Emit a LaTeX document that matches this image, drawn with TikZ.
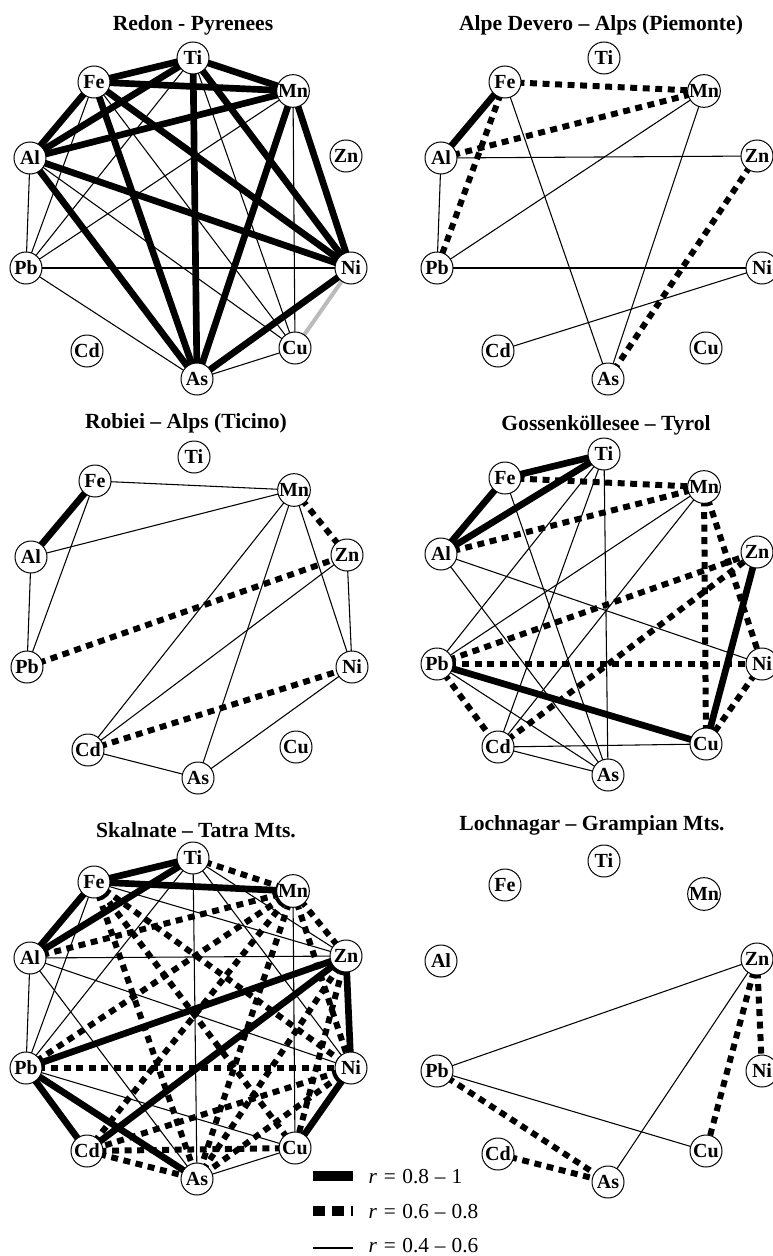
\documentclass[tikz,border=0pt]{standalone}
\usepackage{fontspec}
\setmainfont{Liberation Serif}
\pgfdeclarelayer{edges}
\pgfsetlayers{edges,main}
\definecolor{neggray}{HTML}{BBBBBB}
\tikzset{
  el/.style={circle,draw,line width=0.75pt,fill=white,minimum size=24pt,inner sep=0pt,
    font=\fontsize{15}{15}\selectfont\bfseries},
  ttl/.style={font=\fontsize{16.2}{18}\selectfont\bfseries},
  strong/.style={line width=5pt},
  medium/.style={line width=4.5pt,dash pattern=on 5.2pt off 4.2pt},
  weak/.style={line width=0.8pt},
  neg/.style={line width=3pt,draw=neggray},
  lgtext/.style={anchor=west,font=\fontsize{16}{16}\selectfont},
}
% the ten elements of one lake, on a circle
\newcommand\placeelements[1]{%
  \node[el] (#1Ti) at (193,58)  {Ti};
  \node[el] (#1Fe) at (94,82)   {Fe};
  \node[el] (#1Mn) at (293,91)  {Mn};
  \node[el] (#1Al) at (30,158)  {Al};
  \node[el] (#1Zn) at (346,156) {Zn};
  \node[el] (#1Pb) at (26,268)  {Pb};
  \node[el] (#1Ni) at (351,268) {Ni};
  \node[el] (#1Cd) at (87,351)  {Cd};
  \node[el] (#1Cu) at (295,348) {Cu};
  \node[el] (#1As) at (197,379) {As};
}
% correlation links, drawn under the element circles
\newcommand\links[3]{%
  \begin{pgfonlayer}{edges}
    \foreach \a/\b in {#3}{\draw[#2] (#1\a.center) -- (#1\b.center);}
  \end{pgfonlayer}}
\newcommand\rrange[2]{\textit{r}\hspace{0.32em}=\hspace{0.3em}#1\hspace{0.28em}–\hspace{0.28em}#2}

\begin{document}
\begin{tikzpicture}[x=0.75pt,y=-0.75pt]
\useasboundingbox (0,0) rectangle (773,1256);

% Redon
\node[ttl] (t1) at (193,25) {Redon - Pyrenees};
\begin{scope}
  \placeelements{a}
  \links{a}{strong}{Fe/Ti,Fe/Mn,Ti/Mn,Ti/Al,Mn/Al,Fe/Al,Fe/Ni,Ti/Ni,Al/Ni,Mn/Ni,
    Ti/As,Fe/As,Al/As,Mn/As,Ni/As}
  \links{a}{weak}{Fe/Pb,Ti/Pb,Mn/Pb,Al/Pb,Pb/Ni,Pb/As,Al/Cu,Fe/Cu,Ti/Cu,Mn/Cu,Cu/As}
  \links{a}{neg}{Ni/Cu}
\end{scope}

% Alpe Devero
\node[ttl] (t2) at (601,25) {Alpe Devero – Alps (Piemonte)};
\begin{scope}[shift={(411,0)}]
  \placeelements{b}
  \links{b}{strong}{Fe/Al}
  \links{b}{medium}{Fe/Mn,Fe/Pb,Al/Mn,Zn/As}
  \links{b}{weak}{Fe/As,Al/Zn,Al/Pb,Mn/Pb,Mn/As,Pb/Ni,Cd/Ni}
\end{scope}

% Robiei
\node[ttl] (t3) at (186,423) {Robiei – Alps (Ticino)};
\begin{scope}[shift={(1,399)}]
  \placeelements{c}
  \links{c}{strong}{Fe/Al}
  \links{c}{medium}{Mn/Zn,Pb/Zn,Cd/Ni}
  \links{c}{weak}{Fe/Mn,Fe/Pb,Al/Mn,Al/Pb,Mn/Cd,Mn/As,Mn/Ni,Zn/Ni,Zn/Cd,Ni/As,Cd/As}
\end{scope}

% Gossenkoellesee
\node[ttl] (t4) at (606,425) {Gossenköllesee – Tyrol};
\begin{scope}[shift={(411,396)}]
  \placeelements{d}
  \links{d}{strong}{Fe/Ti,Al/Fe,Al/Ti,Pb/Cu,Zn/Cu}
  \links{d}{medium}{Fe/Mn,Al/Mn,Mn/Cu,Mn/Ni,Pb/Zn,Cd/Zn,Pb/Ni,Pb/Cd,Ni/Cu}
  \links{d}{weak}{Ti/Pb,Ti/Cd,Ti/As,Fe/As,Al/Ni,Al/As,Mn/Pb,Mn/Cd,Pb/As,Cd/As,Cd/Cu}
\end{scope}

% Skalnate
\node[ttl] (t5) at (196,830) {Skalnate – Tatra Mts.};
\begin{scope}[shift={(0,800)}]
  \placeelements{e}
  \links{e}{strong}{Fe/Ti,Al/Ti,Al/Fe,Fe/Mn,Pb/Zn,Cd/Zn,Zn/Ni,Ni/Cu,Pb/Cd,Pb/As}
  \links{e}{medium}{Ti/Mn,Al/Mn,Mn/Zn,Pb/Ni,Cd/Cu,Cd/As,Pb/Mn,Fe/As,Fe/Cu,Fe/Ni,
    Mn/Cd,Mn/As,Mn/Ni,Ni/Cd,Zn/Cu,Zn/As,Ni/As}
  \links{e}{weak}{Ti/As,Ti/Pb,Ti/Zn,Ti/Ni,Fe/Zn,Fe/Pb,Al/Zn,Al/Ni,Al/Pb,Al/As,Mn/Cu,Pb/Cu,Cu/As}
\end{scope}

% Lochnagar
\node[ttl] (t6) at (592,825) {Lochnagar – Grampian Mts.};
\begin{scope}[shift={(411,803)}]
  \placeelements{f}
  \links{f}{weak}{Pb/Zn,Pb/Cu,Zn/As}
  \links{f}{medium}{Zn/Cu,Zn/Ni,Pb/As,Cd/As}
\end{scope}

% legend
\coordinate (l1a) at (313,1176); \coordinate (l1b) at (353,1176);
\coordinate (l2a) at (313,1211); \coordinate (l2b) at (353,1211);
\coordinate (l3a) at (313,1248); \coordinate (l3b) at (353,1248);
\draw[line width=8pt] (l1a) -- (l1b);
\draw[line width=7.5pt,dash pattern=on 9pt off 5.25pt] (l2a) -- (l2b);
\draw[weak] (l3a) -- (l3b);
\node[lgtext] (g1) at (364,1177) {\rrange{0.8}{1}};
\node[lgtext] (g2) at (364,1212) {\rrange{0.6}{0.8}};
\node[lgtext] (g3) at (364,1246) {\rrange{0.4}{0.6}};
\end{tikzpicture}
\end{document}
